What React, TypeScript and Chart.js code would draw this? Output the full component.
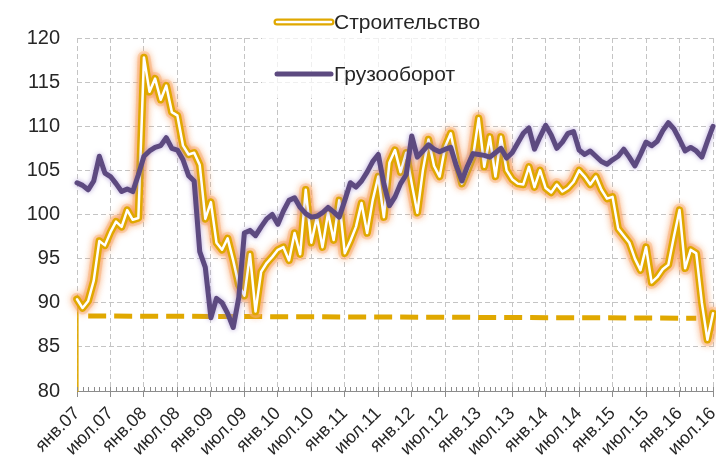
import React, { useEffect, useRef } from 'react';
import { Chart, registerables } from 'chart.js';

Chart.register(...registerables);

// ---- data ----
const seriesNames = ['Строительство', 'Грузооборот'];

const xTickLabels = [
  'янв.07', 'июл.07', 'янв.08', 'июл.08', 'янв.09', 'июл.09', 'янв.10', 'июл.10',
  'янв.11', 'июл.11', 'янв.12', 'июл.12', 'янв.13', 'июл.13', 'янв.14', 'июл.14',
  'янв.15', 'июл.15', 'янв.16', 'июл.16',
];

// monthly, Jan 2007 .. Jul 2016
const construction = [
  90.4, 89.4, 90.2, 92.5, 97.0, 96.5, 98.0, 99.2, 98.6, 100.5, 99.4, 99.6,
  117.8, 113.9, 115.4, 113.0, 114.6, 111.6, 111.2, 107.8, 106.8, 107.0, 105.6, 99.5,
  101.4, 96.8, 96.0, 97.3, 94.8, 92.0, 90.8, 95.5, 89.0, 93.5, 94.5, 95.2,
  96.0, 96.3, 94.8, 97.9, 95.5, 102.8, 96.8, 99.7, 96.3, 100.2, 97.1, 101.6,
  95.6, 97.0, 98.6, 101.3, 97.9, 101.6, 104.3, 99.7, 105.9, 107.3, 104.8, 107.0,
  103.5, 100.2, 105.0, 108.5, 105.5, 104.3, 107.7, 109.2, 106.0, 103.5, 105.0, 106.6,
  110.9, 105.4, 108.8, 104.3, 108.8, 105.0, 104.0, 103.5, 103.4, 105.4, 103.1, 105.0,
  103.0, 102.5, 103.4, 102.6, 103.0, 103.7, 105.0, 104.3, 103.4, 104.3, 102.8, 101.8,
  102.0, 98.4, 97.6, 96.8, 95.0, 93.7, 96.3, 92.3, 92.9, 93.8, 94.3, 97.5,
  100.5, 93.9, 96.0, 95.6, 90.0, 85.8, 88.8,
];

const freight = [
  103.6, 103.3, 102.8, 103.8, 106.6, 104.7, 104.3, 103.5, 102.6, 102.9, 102.6, 104.5,
  106.6, 107.2, 107.6, 107.8, 108.7, 107.5, 107.3, 106.2, 104.4, 103.8, 95.8, 94.0,
  88.3, 90.5, 90.0, 88.8, 87.2, 90.6, 97.9, 98.2, 97.6, 98.6, 99.5, 100.0,
  98.9, 100.4, 101.6, 101.9, 100.8, 100.1, 99.7, 99.8, 100.2, 100.8, 100.3, 99.7,
  101.6, 103.6, 103.1, 103.8, 104.8, 106.0, 106.8, 103.5, 101.0, 102.0, 103.5, 104.5,
  108.9, 106.5, 107.2, 107.9, 107.4, 107.1, 107.4, 107.6, 105.5, 103.8, 105.5, 106.9,
  106.8, 106.7, 106.5, 107.0, 107.5, 106.4, 107.0, 108.1, 109.2, 109.8, 107.4, 108.8,
  110.1, 109.0, 107.5, 108.2, 109.2, 109.4, 107.3, 106.8, 107.2, 106.6, 106.0, 105.7,
  106.2, 106.6, 107.4, 106.5, 105.5, 106.8, 108.2, 107.8, 108.3, 109.5, 110.4, 109.7,
  108.5, 107.2, 107.6, 107.2, 106.5, 108.3, 110.0,
];

// dashed level line (month index, value)
const trendIndex = [2, 111];
const trendValues = [88.5, 88.25];

// thin start segment of the construction series
const constructionStartIndex = [0, 0.15];
const constructionStartValues = [80, 90.4];

const yMin = 80;
const yMax = 120;
const yStep = 5;
const monthsPerLabel = 6;

// ---- styles ----
const GOLD = '#E0A800';
const PURPLE = '#5D4A80';
const GRID = '#c4c4c4';
const AXIS = '#8c8c8c';
const TEXT = '#262626';
const FONT = '"Liberation Sans", Arial, sans-serif';

const toPoints = (xs: number[], ys: number[]) => ys.map((y, i) => ({ x: xs[i], y }));
const seq = (vals: number[]) => vals.map((y, i) => ({ x: i, y }));

const glowPlugin = {
  id: 'glow',
  beforeDatasetDraw(chart: any, args: any) {
    const ds: any = chart.data.datasets[args.index];
    if (ds.glowColor) {
      const ctx = chart.ctx;
      ctx.save();
      ctx.shadowColor = ds.glowColor;
      ctx.shadowBlur = ds.glowBlur;
    }
  },
  afterDatasetDraw(chart: any, args: any) {
    const ds: any = chart.data.datasets[args.index];
    if (ds.glowColor) chart.ctx.restore();
  },
};

const decorPlugin = {
  id: 'decor',
  afterDraw(chart: any) {
    const ctx = chart.ctx;
    const xs = chart.scales.x;
    const bottom = chart.chartArea.bottom;
    // minor monthly ticks
    ctx.save();
    ctx.strokeStyle = AXIS;
    ctx.lineWidth = 1;
    ctx.beginPath();
    for (let i = 0; i <= construction.length - 1; i++) {
      const px = Math.round(xs.getPixelForValue(i)) + 0.5;
      ctx.moveTo(px, bottom - 4);
      ctx.lineTo(px, bottom);
    }
    ctx.stroke();
    ctx.restore();

    // legend
    ctx.save();
    ctx.fillStyle = 'rgba(255,255,255,0.72)';
    ctx.fillRect(262, 0, 250, 98);
    const sx1 = 277, sx2 = 331, tx = 334;
    const y1 = 22, y2 = 74;
    ctx.lineCap = 'round';
    ctx.strokeStyle = GOLD;
    ctx.lineWidth = 7;
    ctx.beginPath(); ctx.moveTo(sx1, y1); ctx.lineTo(sx2, y1); ctx.stroke();
    ctx.strokeStyle = '#ffffff';
    ctx.lineWidth = 2.5;
    ctx.beginPath(); ctx.moveTo(sx1, y1); ctx.lineTo(sx2, y1); ctx.stroke();
    ctx.strokeStyle = PURPLE;
    ctx.lineWidth = 5;
    ctx.beginPath(); ctx.moveTo(sx1, y2); ctx.lineTo(sx2, y2); ctx.stroke();
    ctx.fillStyle = TEXT;
    ctx.font = `21px ${FONT}`;
    ctx.textBaseline = 'middle';
    ctx.textAlign = 'left';
    ctx.fillText(seriesNames[0], tx, y1 + 1);
    ctx.fillText(seriesNames[1], tx, y2 + 1);
    ctx.restore();
  },
};

export default function App() {
  const ref = useRef<HTMLCanvasElement | null>(null);

  useEffect(() => {
    if (!ref.current) return;
    const common = {
      pointRadius: 0,
      pointHoverRadius: 0,
      tension: 0,
      clip: false as any,
      fill: false,
    };
    const chart = new Chart(ref.current, {
      type: 'line',
      data: {
        datasets: [
          {
            ...common,
            label: seriesNames[1],
            data: seq(freight),
            borderColor: PURPLE,
            borderWidth: 5,
            borderJoinStyle: 'round',
            borderCapStyle: 'round',
            order: 0,
            glowColor: 'rgba(150,125,200,0.7)',
            glowBlur: 5,
          } as any,
          {
            ...common,
            label: seriesNames[0] + ' inner',
            data: seq(construction),
            borderColor: '#ffffff',
            borderWidth: 2.5,
            borderJoinStyle: 'round',
            borderCapStyle: 'round',
            order: 1,
          } as any,
          {
            ...common,
            label: seriesNames[0],
            data: seq(construction),
            borderColor: GOLD,
            borderWidth: 7.5,
            borderJoinStyle: 'round',
            borderCapStyle: 'round',
            order: 2,
            glowColor: 'rgba(245,130,50,0.85)',
            glowBlur: 8,
          } as any,
          {
            ...common,
            label: seriesNames[0] + ' halo',
            data: seq(construction),
            borderColor: 'rgba(250,190,140,0.45)',
            borderWidth: 13,
            borderJoinStyle: 'round',
            borderCapStyle: 'round',
            order: 3,
            glowColor: 'rgba(250,170,110,0.6)',
            glowBlur: 6,
          } as any,
          {
            ...common,
            label: 'trend',
            data: toPoints(trendIndex, trendValues),
            borderColor: GOLD,
            borderWidth: 5,
            borderDash: [18, 8],
            borderCapStyle: 'butt',
            order: 4,
          } as any,
          {
            ...common,
            label: 'start',
            data: toPoints(constructionStartIndex, constructionStartValues),
            borderColor: GOLD,
            borderWidth: 1.5,
            order: 5,
          } as any,
        ],
      },
      options: {
        animation: false,
        responsive: false,
        devicePixelRatio: 1,
        events: [],
        layout: { padding: { top: 38, right: 3, left: 0, bottom: 0 } },
        plugins: { legend: { display: false }, tooltip: { enabled: false } },
        scales: {
          x: {
            type: 'linear',
            min: 0,
            max: construction.length - 1,
            ticks: {
              stepSize: monthsPerLabel,
              autoSkip: false,
              maxRotation: 45,
              minRotation: 45,
              padding: 6,
              color: TEXT,
              font: { family: FONT, size: 18 },
              callback: (v: any) => xTickLabels[Math.round(Number(v) / monthsPerLabel)] ?? '',
            },
            grid: {
              color: GRID,
              lineWidth: 1,
              drawTicks: true,
              tickLength: 6,
              tickColor: AXIS,
              tickWidth: 1,
              tickBorderDash: [],
            } as any,
            border: { display: true, color: AXIS, width: 1, dash: [5, 3] },
            afterFit: (s: any) => {
              s.height = 77;
              s.paddingLeft = 0;
              s.paddingRight = 0;
            },
          },
          y: {
            min: yMin,
            max: yMax,
            ticks: {
              stepSize: yStep,
              padding: 17,
              color: TEXT,
              font: { family: FONT, size: 20 },
            },
            grid: { color: GRID, lineWidth: 1, drawTicks: false },
            border: { display: false, dash: [5, 3] },
            afterFit: (s: any) => {
              s.width = 77;
              s.paddingTop = 0;
              s.paddingBottom = 0;
            },
          },
        },
      },
      plugins: [glowPlugin, decorPlugin],
    });
    return () => chart.destroy();
  }, []);

  return (
    <div style={{ position: 'absolute', left: 0, top: 0, width: 716, height: 468, background: '#fff' }}>
      <canvas ref={ref} width={716} height={468} style={{ width: 716, height: 468, display: 'block' }} />
    </div>
  );
}
